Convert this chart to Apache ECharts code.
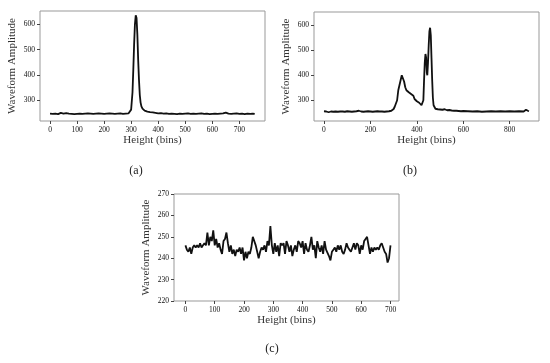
<!DOCTYPE html>
<html>
<head>
<meta charset="utf-8">
<script src="https://cdn.jsdelivr.net/npm/echarts@6/dist/echarts.min.js"></script>
<style>
html,body{margin:0;padding:0;background:#fff;}
#chart{width:550px;height:363px;}
</style>
</head>
<body>
<div id="chart"></div>
<script>
// (a) single-peak waveform
var binsA = [0,10,20,30,40,50,60,70,80,90,100,110,120,130,140,150,160,170,180,190,200,210,220,230,240,250,260,270,280,290,
  295,300,305,308,311,314,317,320,323,326,329,332,335,338,342,346,350,355,360,370,380,390,400,410,420,430,440,450,460,470,480,490,
  500,510,520,530,540,550,560,570,580,590,600,610,620,630,640,650,660,670,680,690,700,710,720,730,740,750,757];
var ampA = [246,245,246,244,249,246,248,246,245,244,245,246,245,246,247,246,245,246,247,246,245,246,247,246,245,246,247,245,246,247,
  250,262,330,420,520,600,636,625,560,460,380,320,290,275,266,262,258,256,254,252,251,249,247,248,246,247,245,246,245,244,246,245,
  246,247,245,246,245,246,247,245,246,244,245,246,245,246,247,250,246,245,246,247,245,246,244,246,245,246,245];

// (b) multi-peak waveform
var binsB = [0,10,20,30,40,50,60,70,80,90,100,110,120,130,140,150,160,170,180,190,200,210,220,230,240,250,260,270,280,290,
  300,305,310,315,320,325,330,335,340,345,350,355,360,365,370,375,380,385,390,395,400,405,410,415,420,425,428,431,434,437,440,443,445,
  448,451,454,457,460,463,466,469,472,475,480,490,500,510,520,530,540,550,560,570,580,590,600,620,640,660,680,700,720,740,760,780,
  800,820,840,860,870,880,883];
var ampB = [256,255,252,255,254,255,254,255,255,254,256,255,254,255,256,258,255,254,255,256,255,254,255,256,255,255,254,255,256,258,
  265,275,280,300,340,360,380,400,398,375,352,340,336,332,326,325,322,318,305,298,296,292,290,285,280,278,300,380,450,485,470,410,400,
  450,520,575,590,560,470,380,310,280,272,266,264,263,262,264,260,261,259,258,258,257,256,257,256,255,256,254,255,256,255,256,255,
  256,255,256,255,262,257,256];

// (c) noise-only waveform
var binsC = [];
var ampC = [246,244,243,245,242,245,246,245,246,245,247,245,246,247,246,252,246,250,248,253,
  246,249,245,247,244,242,248,249,252,247,243,246,242,244,241,244,243,245,242,245,
  239,243,240,243,242,245,250,250,246,243,240,243,245,244,246,243,248,246,255,246,
  242,247,243,246,241,247,246,247,242,248,246,243,246,241,244,246,243,248,247,245,
  248,242,247,244,243,246,250,244,246,240,248,245,243,246,242,248,244,244,241,239,
  243,244,245,243,246,244,246,243,242,244,247,245,244,243,245,247,244,247,246,242,
  246,244,248,249,250,246,242,245,243,245,244,245,244,246,247,245,243,242,238,240,246];
for (var i = 0; i < ampC.length; i++) binsC.push(i * 5);

var ticksA = [0,100,200,300,400,500,600,700];
var ticksB = [0,200,400,600,800];
var ticksC = [0,100,200,300,400,500,600,700];
var ticksAmpAB = [300,400,500,600];

function pairs(xs, ys){ var o=[]; for (var i=0;i<xs.length;i++) o.push([xs[i], ys[i]]); return o; }

var FONT = '"Liberation Serif", "DejaVu Serif", serif';
var labelStyle = {fontFamily: FONT, fontSize: 7.5, color: '#111', margin: 5};
var nameStyle = {fontFamily: FONT, fontSize: 11, color: '#333'};

function xAx(idx, min, max, ticks){
  return {gridIndex: idx, type: 'value', min: min, max: max,
    name: 'Height (bins)', nameLocation: 'middle', nameGap: 14, nameTextStyle: nameStyle,
    axisLine: {show: false, onZero: false}, splitLine: {show: false},
    axisTick: {show: true, inside: false, length: 3, lineStyle: {color: '#444'}, customValues: ticks},
    axisLabel: Object.assign({customValues: ticks}, labelStyle)};
}
function yAx(idx, min, max, ticks, interval){
  var a = {gridIndex: idx, type: 'value', min: min, max: max,
    name: 'Waveform Amplitude', nameLocation: 'middle', nameGap: 22, nameTextStyle: nameStyle,
    axisLine: {show: false, onZero: false}, splitLine: {show: false},
    axisTick: {show: true, inside: false, length: 3, lineStyle: {color: '#444'}},
    axisLabel: Object.assign({}, labelStyle)};
  if (ticks) { a.axisTick.customValues = ticks; a.axisLabel.customValues = ticks; }
  if (interval) a.interval = interval;
  return a;
}
function ser(idx, xs, ys){
  return {type: 'line', xAxisIndex: idx, yAxisIndex: idx, data: pairs(xs, ys), showSymbol: false,
    lineStyle: {color: '#111', width: 1.8}, animation: false};
}

var chart = echarts.init(document.getElementById('chart'), null, {renderer: 'canvas'});
chart.setOption({
  backgroundColor: '#fff',
  animation: false,
  grid: [
    {left: 40, top: 11, width: 225, height: 110, show: true, borderColor: '#999', borderWidth: 1},
    {left: 314, top: 12, width: 225, height: 109, show: true, borderColor: '#999', borderWidth: 1},
    {left: 174, top: 194, width: 225, height: 107, show: true, borderColor: '#999', borderWidth: 1}
  ],
  xAxis: [xAx(0, -37, 795, ticksA), xAx(1, -43, 926, ticksB), xAx(2, -39, 729, ticksC)],
  yAxis: [yAx(0, 217, 653, ticksAmpAB), yAx(1, 217, 653, ticksAmpAB), yAx(2, 220, 270, null, 10)],
  series: [ser(0, binsA, ampA), ser(1, binsB, ampB), ser(2, binsC, ampC)],
  graphic: [
    {type: 'text', x: 136, y: 171, style: {text: '(a)', font: '12px ' + FONT, fill: '#222', align: 'center', verticalAlign: 'middle'}},
    {type: 'text', x: 410, y: 171, style: {text: '(b)', font: '12px ' + FONT, fill: '#222', align: 'center', verticalAlign: 'middle'}},
    {type: 'text', x: 272, y: 349, style: {text: '(c)', font: '12px ' + FONT, fill: '#222', align: 'center', verticalAlign: 'middle'}}
  ]
});
</script>
</body>
</html>
